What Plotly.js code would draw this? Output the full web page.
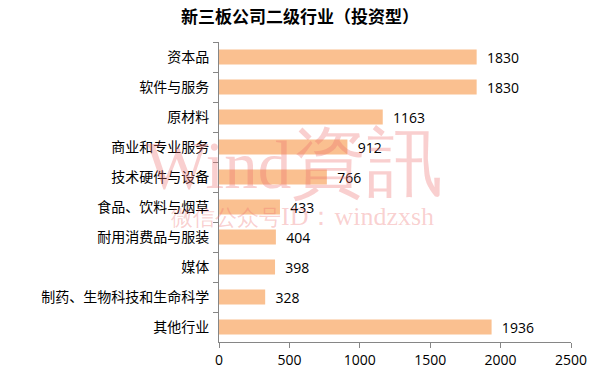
<!DOCTYPE html>
<html><head><meta charset="utf-8">
<script src="https://cdn.plot.ly/plotly-3.0.1.min.js"></script>
<style>html,body{margin:0;padding:0;background:#fff}#c{width:600px;height:384px}</style>
</head><body><div id="c"></div>
<script>
const categories = ["资本品","软件与服务","原材料","商业和专业服务","技术硬件与设备","食品、饮料与烟草","耐用消费品与服装","媒体","制药、生物科技和生命科学","其他行业"];
const values = [1830,1830,1163,912,766,433,404,398,328,1936];
const xTicks = [0,500,1000,1500,2000,2500];

const trace = {
  type:'bar', orientation:'h', x:values, y:categories,
  marker:{color:'#FAC090'}, width:0.5,
  text:values.map(v=>'\u00a0\u00a0'+v), textposition:'outside', cliponaxis:false, constraintext:'none',
  textfont:{family:'Open Sans, Liberation Sans, sans-serif', size:14, color:'#000'},
  hoverinfo:'none'
};
const layout = {
  width:600, height:384,
  margin:{l:219, r:29, t:42, b:42},
  paper_bgcolor:'#fff', plot_bgcolor:'#fff',
  title:{text:'<b>新三板公司二级行业（投资型）</b>', x:0.5, xanchor:'center', y:0.955, yanchor:'middle',
    font:{family:'Noto Sans CJK SC', size:17, color:'#000'}},
  showlegend:false,
  xaxis:{range:[0,2500], tickvals:xTicks, ticktext:xTicks.map(String), showgrid:false, zeroline:false,
    showline:true, linecolor:'#868686', linewidth:1, ticks:'outside', ticklen:5, tickcolor:'#868686',
    tickfont:{family:'Open Sans, Liberation Sans, sans-serif', size:14, color:'#000'}},
  yaxis:{autorange:'reversed', type:'category', showgrid:false, zeroline:false, showline:true,
    linecolor:'#868686', linewidth:1, ticks:'outside', ticklen:5, tickcolor:'#868686', tickson:'boundaries',
    ticklabelstandoff:6,
    tickfont:{family:'Noto Sans CJK SC', size:14, color:'#000'}},
  annotations:[
    {text:'Wind<span style="font-size:76px">資訊</span>', xref:'paper', yref:'paper', x:0.212, y:0.6, xanchor:'center', yanchor:'middle', showarrow:false,
     font:{family:'Liberation Serif, serif', size:67, color:'rgba(238,110,110,0.33)'}},
    {text:'<span style="font-size:22px">微信公众号</span>ID：windzxsh', xref:'paper', yref:'paper', x:0.237, y:0.42, xanchor:'center', yanchor:'middle', showarrow:false,
     font:{family:'Liberation Serif, serif', size:26, color:'rgba(238,110,110,0.33)'}}
  ]
};
Plotly.newPlot('c',[trace],layout,{displayModeBar:false,staticPlot:true});
</script></body></html>
